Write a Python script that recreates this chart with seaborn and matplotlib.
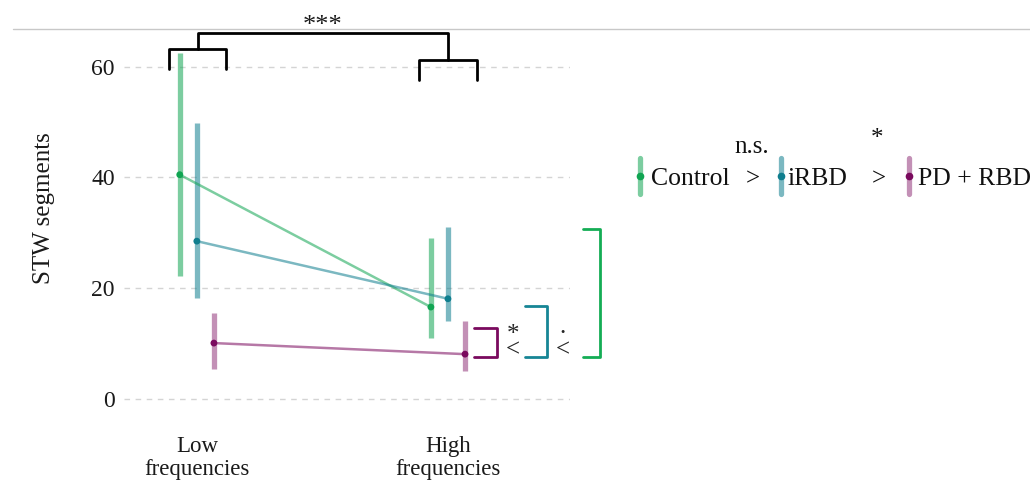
"""plot.py - STW segments by frequency band and group (dodged point + range plot)"""
import pandas as pd
import seaborn as sns
import matplotlib.pyplot as plt
from matplotlib.lines import Line2D

# values
groups = ["Control", "iRBD", "PD + RBD"]
bands = ["Low\nfrequencies", "High\nfrequencies"]
control_mean = [40.5, 16.6]
control_lo = [22.2, 11.1]
control_hi = [62.5, 29.0]
irbd_mean = [28.5, 18.1]
irbd_lo = [18.2, 14.1]
irbd_hi = [49.8, 31.1]
pdrbd_mean = [10.1, 8.1]
pdrbd_lo = [5.5, 5.1]
pdrbd_hi = [15.5, 14.0]

base_colors = {"Control": "#10A552", "iRBD": "#0F7E8E", "PD + RBD": "#7A0A5E"}
bar_alpha = {"Control": 0.55, "iRBD": 0.55, "PD + RBD": 0.45}
dodge = {"Control": -0.068, "iRBD": 0.0, "PD + RBD": 0.068}

rows = []
for g, m, lo, hi in [("Control", control_mean, control_lo, control_hi),
                     ("iRBD", irbd_mean, irbd_lo, irbd_hi),
                     ("PD + RBD", pdrbd_mean, pdrbd_lo, pdrbd_hi)]:
    for i in range(len(bands)):
        rows.append({"group": g, "band": i, "x": i + dodge[g],
                     "mean": m[i], "lo": lo[i], "hi": hi[i]})
df = pd.DataFrame(rows)

sns.set_theme(style="white")
plt.rcParams["font.family"] = ["Liberation Serif", "DejaVu Serif"]

fig = plt.figure(figsize=(10.30, 4.96), dpi=100)
ax = fig.add_axes([0.1204, 0.1397, 0.433, 0.7817])

# error ranges
for g in groups:
    d = df[df["group"] == g]
    ax.vlines(d["x"], d["lo"], d["hi"], colors=base_colors[g],
              alpha=bar_alpha[g], linewidth=3.8, zorder=2)

sns.lineplot(data=df, x="x", y="mean", hue="group", palette=base_colors,
             estimator=None, sort=True, linewidth=1.8, alpha=0.55,
             legend=False, ax=ax, zorder=2)
sns.scatterplot(data=df, x="x", y="mean", hue="group", palette=base_colors,
                s=24, linewidth=0, legend=False, ax=ax, zorder=3)

ax.set_xlim(-0.29, 1.486)
ax.set_ylim(-5, 65)
ax.set_yticks([0, 20, 40, 60])
ax.set_xticks([0, 1])
ax.set_xticklabels(bands, linespacing=1.12)
ax.set_xlabel("")
ax.set_ylabel("")
ax.tick_params(axis="y", length=0, pad=6.5, labelsize=17, labelcolor="#1a1a1a")
ax.tick_params(axis="x", length=0, pad=7, labelsize=16.5, labelcolor="#1a1a1a")
ax.grid(axis="y", color="#d4d4d4", linestyle=(0, (4, 4)), linewidth=1)
ax.grid(axis="x", visible=False)
sns.despine(ax=ax, left=True, bottom=True)

fig.text(44 / 1030, 1 - 208 / 496, "STW segments", rotation=90,
         ha="center", va="center", fontsize=18, color="#1a1a1a")

# main effect brackets (above the panel)
k = dict(color="black", linewidth=2.0, clip_on=False, solid_joinstyle="round")
ax.plot([-0.109, -0.109, 0.118, 0.118], [59.6, 63.2, 63.2, 59.6], **k)
ax.plot([0.883, 0.883, 1.114, 1.114], [57.6, 61.2, 61.2, 57.6], **k)
ax.plot([0.003, 0.003, 1.0, 1.0], [63.2, 66.1, 66.1, 61.2], **k)
ax.text(0.5, 66.3, "***", ha="center", va="baseline", fontsize=19,
        color="#1a1a1a", clip_on=False)

# group comparison brackets on the right
ax.plot([1.102, 1.194, 1.194, 1.102], [12.8, 12.8, 7.64, 7.64],
        color=base_colors["PD + RBD"], linewidth=2.0, clip_on=False)
ax.plot([1.306, 1.393, 1.393, 1.306], [16.8, 16.8, 7.64, 7.64],
        color="#168595", linewidth=2.0, clip_on=False)
ax.plot([1.537, 1.604, 1.604, 1.537], [30.66, 30.66, 7.64, 7.64],
        color="#14AD55", linewidth=2.0, clip_on=False)
# significance mark stacked over the "<" sign
ax.text(1.258, 7.68, "*\n<", ha="center", va="baseline", fontsize=18,
        linespacing=0.6, clip_on=False)
ax.text(1.457, 7.68, "·\n<", ha="center", va="baseline", fontsize=18,
        linespacing=0.7, clip_on=False)

# top rule
fig.add_artist(Line2D([13 / 1030, 1.0], [1 - 29 / 496] * 2, color="#c8c8c8",
                      linewidth=1.0, transform=fig.transFigure))


# ordered legend: Control > iRBD > PD + RBD
def legend_key(px, g):
    y0, y1, yc = 1 - 194 / 496, 1 - 158 / 496, 1 - 176 / 496
    fig.add_artist(Line2D([px / 1030] * 2, [y0, y1], color=base_colors[g],
                          alpha=bar_alpha[g], linewidth=3.8, transform=fig.transFigure))
    fig.add_artist(Line2D([px / 1030], [yc], color=base_colors[g], marker="o",
                          markersize=4.5, linestyle="none", transform=fig.transFigure))


base_y = 1 - 185 / 496
legend_key(640, "Control")
fig.text(651 / 1030, base_y, "Control", fontsize=18.5, va="baseline", color="#111111")
fig.text(753 / 1030, base_y, ">", fontsize=18, ha="center", va="baseline", color="#111111")
fig.text(752 / 1030, 1 - 153 / 496, "n.s.", fontsize=18, ha="center", va="baseline", color="#111111")
legend_key(781, "iRBD")
fig.text(788 / 1030, base_y, "iRBD", fontsize=18.5, va="baseline", color="#111111")
fig.text(879 / 1030, base_y, ">", fontsize=18, ha="center", va="baseline", color="#111111")
fig.text(877 / 1030, 1 - 145 / 496, "*", fontsize=18, ha="center", va="baseline", color="#111111")
legend_key(909, "PD + RBD")
fig.text(918 / 1030, base_y, "PD + RBD", fontsize=18.5, va="baseline", color="#111111")

fig.savefig("out.png", dpi=100)
